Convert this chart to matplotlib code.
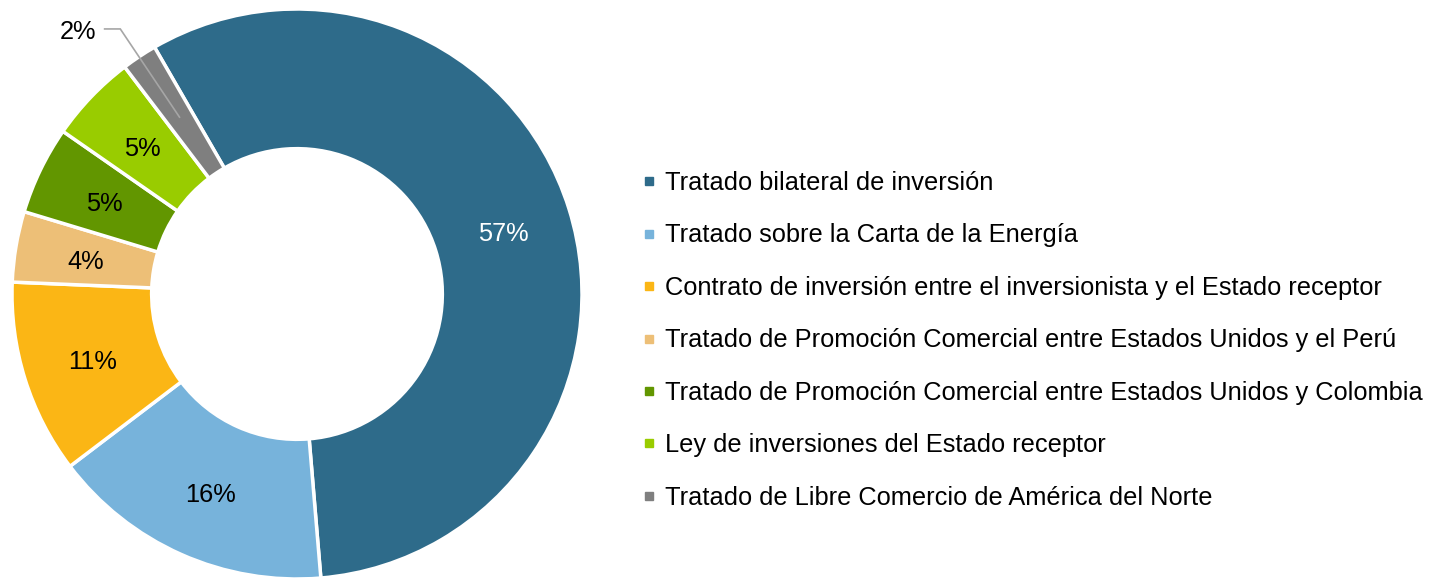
import numpy as np
import matplotlib.pyplot as plt
from matplotlib.lines import Line2D
from matplotlib.transforms import offset_copy

plt.rcParams['font.family'] = ['Liberation Sans', 'DejaVu Sans']

# datos
categorias = [u'Tratado bilateral de inversión',
              u'Tratado sobre la Carta de la Energía',
              u'Contrato de inversión entre el inversionista y el Estado receptor',
              u'Tratado de Promoción Comercial entre Estados Unidos y el Perú',
              u'Tratado de Promoción Comercial entre Estados Unidos y Colombia',
              u'Ley de inversiones del Estado receptor',
              u'Tratado de Libre Comercio de América del Norte']
valores = [57, 16, 11, 4, 5, 5, 2]
colores = ['#2E6B8A', '#77B3DB', '#FBB615', '#EDBF77', '#629600', '#99CC00', '#7F7F7F']
color_texto = ['white', 'black', 'black', 'black', 'black', 'black', None]

W, H = 1436, 579
fig = plt.figure(figsize=(W / 100, H / 100), dpi=100)

cx, cy, r = 297, 285, 285  # centro y radio en pixeles (desde abajo)
ax = fig.add_axes([(cx - r) / W, (cy - r) / H, 2 * r / W, 2 * r / H])

wedges, textos, autotextos = ax.pie(
    valores, colors=colores, startangle=120, counterclock=False, radius=1,
    wedgeprops=dict(width=0.49, edgecolor='white', linewidth=2.5),
    autopct='%d%%', pctdistance=0.755, textprops=dict(fontsize=18.3))
ax.set_xlim(-1, 1)
ax.set_ylim(-1, 1)
ax.set_aspect('equal')
ax.axis('off')

# las etiquetas del original quedan un poco mas abajo
desplaz = offset_copy(ax.transData, fig=fig, x=1, y=-4, units='dots')
for t, c in zip(autotextos, color_texto):
    if c is None:
        t.set_visible(False)
    else:
        t.set_color(c)
        t.set_transform(desplaz)

# etiqueta del 2% fuera del anillo, con linea guia
w = wedges[-1]
ang = np.deg2rad((w.theta1 + w.theta2) / 2)
xe, ye = 0.745 * np.cos(ang), 0.745 * np.sin(ang)
ax.plot([-0.675, -0.62, xe], [0.93, 0.93, ye], color='#A6A6A6', lw=1.2,
        solid_joinstyle='miter', clip_on=False)
ax.text(-0.705, 0.92, '%d%%' % valores[-1], fontsize=18.3, ha='right', va='center')

handles = [Line2D([], [], marker='s', linestyle='', markersize=6,
                  markerfacecolor=c, markeredgecolor=c) for c in colores]
fig.legend(handles, categorias, loc='upper left', bbox_to_anchor=(643 / W, 1 - 171 / H),
           frameon=False, fontsize=18.3, handlelength=0.5, handletextpad=0.35,
           labelspacing=1.12, borderpad=0, borderaxespad=0)

fig.savefig('out.png', dpi=100)
